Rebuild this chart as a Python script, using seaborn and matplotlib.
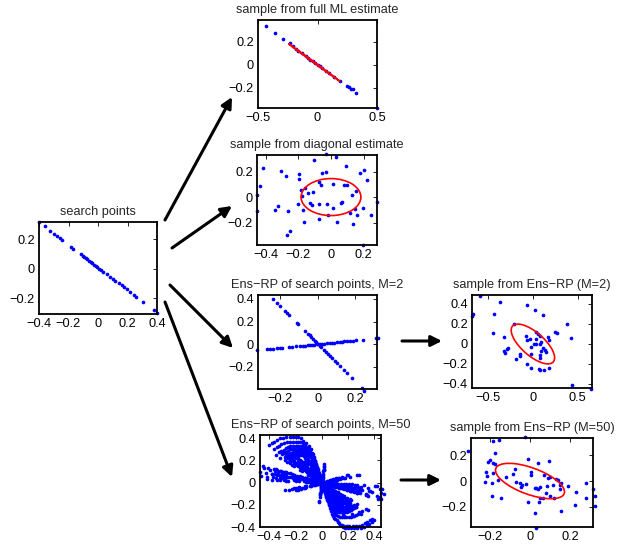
import numpy as np
import matplotlib.pyplot as plt
import seaborn as sns
from matplotlib.patches import Ellipse, FancyArrowPatch

sns.set_style("white")
plt.rcParams['font.family'] = ['Liberation Sans', 'DejaVu Sans']
plt.rcParams['font.size'] = 9.2

# ---- search points (left panel)
search_x = [-0.400, -0.361, -0.323, -0.300, -0.277, -0.259, -0.245, -0.186, -0.168, -0.116,
            -0.105, -0.093, -0.082, -0.073, -0.061, -0.050, -0.039, -0.027, -0.016, -0.005,
            0.007, 0.020, 0.036, 0.059, 0.082, 0.100, 0.118, 0.139, 0.161, 0.173,
            0.195, 0.218, 0.241, 0.257, 0.305, 0.382, 0.400]
search_y = [0.315, 0.290, 0.258, 0.238, 0.222, 0.207, 0.196, 0.151, 0.135, 0.099,
            0.090, 0.081, 0.072, 0.065, 0.056, 0.047, 0.038, 0.029, 0.020, 0.011,
            0.002, -0.007, -0.018, -0.034, -0.052, -0.065, -0.079, -0.094, -0.110, -0.119,
            -0.137, -0.157, -0.175, -0.191, -0.222, -0.281, -0.300]

# ---- sample from full ML estimate
ml_x = [-0.435, -0.357, -0.287, -0.230, -0.21, -0.18, -0.16, -0.13, -0.10, -0.08, -0.06, -0.04,
        -0.02, 0.00, 0.02, 0.04, 0.07, 0.10, 0.14, 0.19, 0.247, 0.267, 0.284, 0.295, 0.326, 0.500]
ml_y = [0.337, 0.280, 0.223, 0.186, 0.160, 0.137, 0.122, 0.100, 0.077, 0.062, 0.046, 0.031,
        0.016, 0.000, -0.014, -0.029, -0.052, -0.074, -0.105, -0.143, -0.180, -0.194, -0.206,
        -0.214, -0.243, -0.375]
ml_ell = dict(c=(-0.027, 0.02), a=0.273, b=0.004, ang=-37.1)

# ---- sample from diagonal estimate
dg_x = [-0.416, -0.435, -0.453, -0.453, -0.310, -0.277, -0.324, -0.343, -0.263, -0.273, -0.252,
        -0.195, -0.195, -0.185, -0.160, -0.181, -0.201, -0.170, -0.166, -0.103, -0.139, -0.111,
        -0.129, -0.119, -0.074, -0.072, -0.072, -0.064, -0.053, -0.031, -0.031, -0.027, 0.014,
        0.010, 0.031, -0.021, 0.035, 0.059, 0.070, 0.092, 0.082, 0.096, 0.127, 0.117, 0.133,
        0.148, 0.154, 0.158, 0.178, 0.203, 0.199, 0.224, 0.246, 0.281, 0.199]
dg_y = [0.226, 0.083, 0.013, -0.112, 0.203, 0.169, -0.070, -0.104, -0.112, -0.294, -0.268,
        0.182, 0.143, 0.057, 0.070, 0.008, -0.052, -0.101, -0.195, 0.294, 0.031, 0.036,
        -0.047, -0.060, -0.052, -0.169, 0.122, 0.096, 0.187, 0.195, 0.335, -0.052, 0.101,
        -0.086, 0.314, -0.138, -0.195, -0.047, -0.039, 0.244, 0.091, 0.096, 0.013, -0.122, -0.208,
        -0.091, 0.044, -0.143, 0.187, 0.213, -0.083, 0.132, -0.138, -0.042, -0.377]
dg_ell = dict(c=(0.0, 0.0), a=0.184, b=0.145, ang=0.0)

# ---- Ens-RP of search points, M=2 (two projected lines)
rp2_x = [-0.241, -0.220, -0.202, -0.175, -0.163, -0.152, -0.113, -0.104, -0.068, -0.055, -0.045,
         -0.038, -0.027, -0.018, -0.009, -0.002, 0.009, 0.018, 0.030, 0.041, 0.052, 0.062, 0.075,
         0.089, 0.102, 0.120, 0.141, 0.155, 0.182, 0.236, 0.248,
         -0.323, -0.273, -0.255, -0.241, -0.220, -0.202, -0.193, -0.152, -0.139, -0.116, -0.095,
         -0.080, -0.068, -0.055, -0.045, -0.032, -0.020, -0.005, 0.009, 0.021, 0.034, 0.048, 0.063,
         0.075, 0.088, 0.102, 0.116, 0.129, 0.141, 0.155, 0.173, 0.188, 0.205, 0.241, 0.307, 0.320]
rp2_y = [0.402, 0.367, 0.337, 0.292, 0.273, 0.254, 0.190, 0.175, 0.115, 0.093, 0.077,
         0.065, 0.047, 0.032, 0.017, 0.005, -0.013, -0.028, -0.048, -0.066, -0.084, -0.101, -0.123,
         -0.146, -0.167, -0.197, -0.232, -0.255, -0.300, -0.390, -0.410,
         -0.055, -0.046, -0.043, -0.041, -0.037, -0.034, -0.033, -0.026, -0.024, -0.020, -0.016,
         -0.014, -0.012, -0.009, -0.008, -0.005, -0.003, -0.001, 0.002, 0.004, 0.006, 0.008, 0.011,
         0.013, 0.015, 0.017, 0.020, 0.022, 0.024, 0.026, 0.029, 0.032, 0.035, 0.041, 0.052, 0.054]

# ---- Ens-RP of search points, M=50: far (upper-left) end of each projected search line
rp50_end_x = [-0.40, -0.38, -0.36, -0.34, -0.32, -0.295, -0.27, -0.245, -0.22, -0.20, -0.18,
              -0.16, -0.14, -0.12, -0.10, -0.085, -0.07,
              -0.35, -0.30, -0.26, -0.24, -0.20, -0.17, -0.12, -0.08, -0.05,
              -0.47, -0.46, -0.45, -0.44, -0.42, -0.38, -0.35,
              -0.28, -0.20, 0.02]
rp50_end_y = [0.34, 0.355, 0.37, 0.385, 0.40, 0.405, 0.41, 0.41, 0.41, 0.41, 0.41,
              0.40, 0.38, 0.355, 0.33, 0.30, 0.26,
              0.25, 0.28, 0.22, 0.30, 0.22, 0.30, 0.24, 0.18, 0.12,
              0.10, 0.06, 0.15, 0.13, 0.03, 0.08, 0.12,
              -0.07, -0.07, 0.17]

# ---- sample from Ens-RP (M=2)
s2_x = [-0.593, -0.363, -0.685, -0.667, -0.437, -0.067, 0.019, 0.111, -0.215, -0.444, -0.326,
        -0.322, -0.311, -0.289, -0.278, -0.193, -0.148, -0.141, -0.081, -0.067, -0.037, 0.037,
        0.056, 0.074, 0.030, 0.007, 0.037, 0.074, 0.093, -0.019, 0.093, 0.130, 0.111, 0.148,
        0.167, 0.178, 0.074, 0.074, -0.019, -0.067, -0.019, 0.067, 0.074, 0.119, 0.185, 0.248,
        0.267, 0.378, 0.426, 0.437, 0.648]
s2_y = [0.481, 0.424, 0.285, 0.305, 0.305, 0.386, 0.336, 0.295, 0.200, 0.108, 0.068,
        -0.068, -0.085, -0.051, -0.037, -0.153, -0.102, -0.122, 0.081, 0.041, 0.047, 0.125,
        0.102, 0.081, 0.047, 0.000, 0.000, 0.000, 0.024, -0.027, -0.068, -0.061, -0.044, -0.078,
        0.068, 0.041, -0.112, -0.136, -0.095, -0.203, -0.237, -0.247, -0.258, -0.264, -0.237, 0.119,
        0.108, 0.200, 0.058, -0.407, -0.451]
s2_ell = dict(c=(0.0, 0.0), a=0.29, b=0.12, ang=-37.0)

# ---- sample from Ens-RP (M=50)
s50_x = [-0.310, -0.186, -0.153, -0.174, -0.212, -0.200, -0.177, -0.183, -0.221, -0.217, -0.226,
         -0.191, -0.188, -0.143, -0.183, -0.160, -0.122, -0.073, -0.083, -0.070, -0.052, -0.038,
         -0.043, -0.021, -0.009, 0.003, 0.005, 0.038, 0.026, 0.031, 0.038, 0.049, 0.070, 0.083,
         0.096, 0.090, 0.101, 0.113, 0.118, 0.130, 0.139, 0.148, 0.157, 0.151, 0.052, 0.047,
         0.066, 0.082, 0.099, -0.009, 0.026, 0.157, 0.191, 0.230, 0.282, 0.226, 0.278, 0.317,
         0.327, 0.325, 0.030, -0.026]
s50_y = [0.239, 0.313, 0.318, 0.218, 0.147, 0.161, 0.134, 0.145, 0.068, 0.042, -0.005,
         -0.018, -0.118, -0.132, 0.061, 0.008, 0.034, 0.095, 0.053, -0.005, -0.018, -0.032,
         -0.050, -0.024, 0.171, 0.074, 0.047, 0.139, -0.053, -0.058, -0.063, -0.045, 0.047, -0.037,
         0.153, 0.021, 0.034, -0.032, -0.129, 0.013, 0.008, -0.032, -0.018, -0.063, -0.129, -0.163,
         -0.132, -0.097, -0.118, -0.163, -0.250, -0.237, -0.039, -0.084, -0.013, -0.189, -0.129, -0.061,
         -0.118, -0.195, -0.366, 0.342]
s50_ell = dict(c=(0.0, 0.0), a=0.20, b=0.095, ang=-35.0)

# projected search lines for M=50 (search-line position times each projection's end point)
s_par = -np.array(search_x) / 0.4
rp50_x = np.concatenate([s_par * ex for ex in rp50_end_x])
rp50_y = np.concatenate([s_par * ey for ey in rp50_end_y])

W, H = 638, 551
fig = plt.figure(figsize=(W / 100, H / 100), dpi=100)


def fmt(v):
    return '0' if v == 0 else f'{v:g}'.replace('-', '\u2212')


def panel(px, x, y, title, xlim, ylim, xticks, yticks, ell=None):
    l, t, r, b = px
    ax = fig.add_axes([l / W, 1 - b / H, (r - l) / W, (b - t) / H])
    sns.scatterplot(x=x, y=y, ax=ax, s=7, color='blue', linewidth=0, marker='o', clip_on=False)
    if ell is not None:
        ax.add_patch(Ellipse(ell['c'], 2 * ell['a'], 2 * ell['b'], angle=ell['ang'],
                             fill=False, ec='red', lw=1.2))
    ax.set_xlim(xlim)
    ax.set_ylim(ylim)
    ax.set_xticks(xticks)
    ax.set_xticklabels([fmt(v) for v in xticks])
    ax.set_yticks(yticks)
    ax.set_yticklabels([fmt(v) for v in yticks])
    ax.tick_params(direction='in', length=3, width=0.6, top=True, right=True,
                   labelsize=9.2, pad=3, colors='black')
    for sp in ax.spines.values():
        sp.set_linewidth(1.3)
        sp.set_color('black')
    ax.set_title(title, fontsize=9.2, pad=5)
    return ax


panel((39, 222, 157, 314), search_x, search_y, 'search points',
      (-0.4, 0.4), (-0.305, 0.318), [-0.4, -0.2, 0, 0.2, 0.4], [-0.2, 0, 0.2])
panel((258, 20, 377, 108), ml_x, ml_y, 'sample from full ML estimate',
      (-0.5, 0.5), (-0.375, 0.39), [-0.5, 0, 0.5], [-0.2, 0, 0.2], ml_ell)
panel((257, 155, 377, 245), dg_x, dg_y, 'sample from diagonal estimate',
      (-0.455, 0.283), (-0.376, 0.33), [-0.4, -0.2, 0, 0.2], [-0.2, 0, 0.2], dg_ell)
panel((258, 295, 377, 389), rp2_x, rp2_y, 'Ens\u2212RP of search points, M=2',
      (-0.32, 0.315), (-0.396, 0.435), [-0.2, 0, 0.2], [-0.2, 0, 0.2, 0.4])
panel((260, 435, 381, 527), rp50_x, rp50_y, 'Ens\u2212RP of search points, M=50',
      (-0.47, 0.45), (-0.4, 0.43), [-0.4, -0.2, 0, 0.2, 0.4], [-0.4, -0.2, 0, 0.2, 0.4])
panel((472, 295, 592, 388), s2_x, s2_y, 'sample from Ens\u2212RP (M=2)',
      (-0.68, 0.66), (-0.44, 0.49), [-0.5, 0, 0.5], [-0.4, -0.2, 0, 0.2, 0.4], s2_ell)
panel((471, 438, 593, 527), s50_x, s50_y, 'sample from Ens\u2212RP (M=50)',
      (-0.295, 0.315), (-0.36, 0.337), [-0.2, 0, 0.2], [-0.2, 0, 0.2], s50_ell)

# arrows (figure pixels)
arrows = [((165, 220), (232, 97)), ((172, 248), (232, 206)), ((170, 285), (233, 348)),
          ((165, 302), (232, 477)), ((402, 341), (442, 341)), ((401, 480), (441, 480))]
for (x0, y0), (x1, y1) in arrows:
    fig.add_artist(FancyArrowPatch((x0 / W, 1 - y0 / H), (x1 / W, 1 - y1 / H),
                                   transform=fig.transFigure, arrowstyle='-|>',
                                   mutation_scale=16, lw=2.2, color='black',
                                   shrinkA=0, shrinkB=0))

fig.savefig('out.png', dpi=100)
